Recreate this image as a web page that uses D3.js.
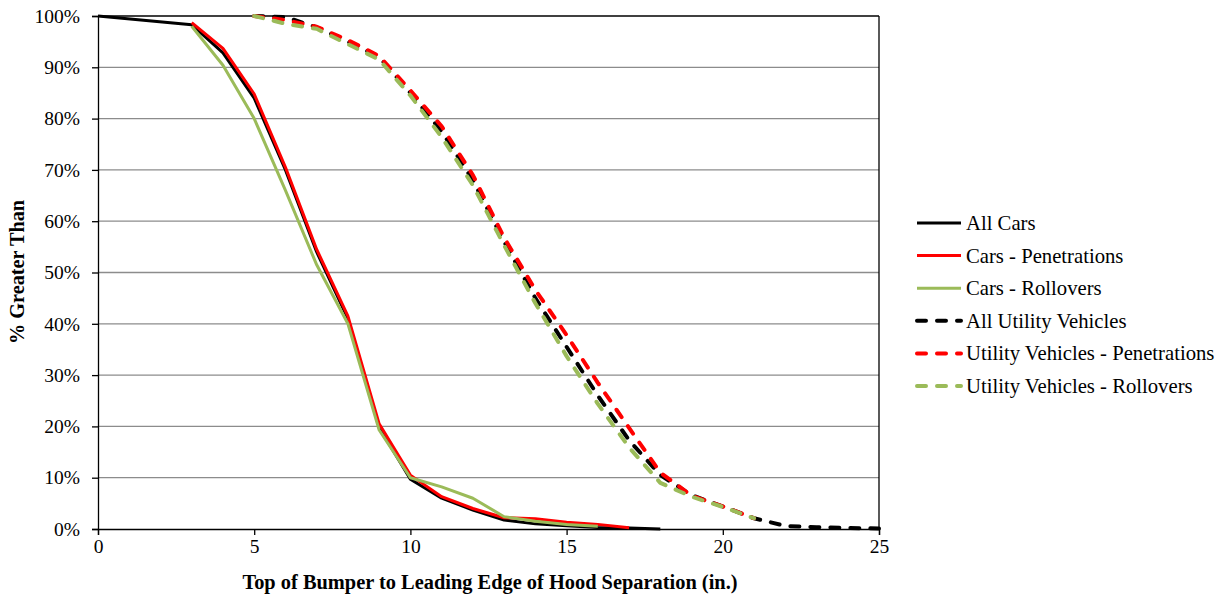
<!DOCTYPE html>
<html><head><meta charset="utf-8">
<script src="https://cdn.jsdelivr.net/npm/d3@7"></script>
<style>body{margin:0;background:#fff}</style>
</head><body><svg id="c" width="1224" height="596"></svg>
<script>
// Data
const carsAllX = [0,3,4,5,6,7,8,9,10,11,12,13,14,15,16,17,18];
const carsAllY = [100,98.3,92.8,84,70,54,41,19.8,9.7,6,3.7,1.75,1,0.65,0.3,0.2,0];
const carsPenX = [3,4,5,6,7,8,9,10,11,12,13,14,15,16,17];
const carsPenY = [98.7,93.7,84.8,70.5,54.5,41.5,20.5,10.5,6.3,4,2.2,2,1.3,0.9,0.25];
const carsRollX = [3,4,5,6,7,8,9,10,11,12,13,14,15,16];
const carsRollY = [98,90.4,80,66,51.5,40,19.3,10,8.2,6,2.4,1.5,0.9,0.55];
const uvAllX = [5,6,7,8,9,10,11,12,13,14,15,16,17,18,19,20,21,22,23,24,25];
const uvAllY = [100,99.8,97.8,95,92,85,77.5,68,56,45,35.5,26,17.3,10.5,6.6,4.4,2.1,0.6,0.35,0.2,0.1];
const uvPenX = [5,6,7,8,9,10,11,12,13,14,15,16,17,18,19,20,21];
const uvPenY = [100,99.2,97.9,95.3,92.2,85.5,78.5,69,56.8,46.6,37.8,28.5,19.7,11,6.5,4.4,2.1];
const uvRollX = [5,6,7,8,9,10,11,12,13,14,15,16,17,18,19,20,21];
const uvRollY = [100,98.5,97.5,94.5,91.5,84.5,76.4,67,55.3,44,33.7,24.4,15.9,9,6.3,4.3,2.1];
const seriesNames = ["All Cars","Cars - Penetrations","Cars - Rollovers","All Utility Vehicles","Utility Vehicles - Penetrations","Utility Vehicles - Rollovers"];
const xTicks = [0,5,10,15,20,25];
const yTicks = [0,10,20,30,40,50,60,70,80,90,100];

const series = [
  {name:seriesNames[0], xs:carsAllX, ys:carsAllY, color:"#000000", dash:false},
  {name:seriesNames[1], xs:carsPenX, ys:carsPenY, color:"#ff0000", dash:false},
  {name:seriesNames[2], xs:carsRollX, ys:carsRollY, color:"#9bbb59", dash:false},
  {name:seriesNames[3], xs:uvAllX, ys:uvAllY, color:"#000000", dash:true},
  {name:seriesNames[4], xs:uvPenX, ys:uvPenY, color:"#ff0000", dash:true},
  {name:seriesNames[5], xs:uvRollX, ys:uvRollY, color:"#9bbb59", dash:true}
];

const svg = d3.select("#c");
const L=98, R=879, T=16, B=529;
const x = d3.scaleLinear().domain([0,25]).range([L,R]);
const y = d3.scaleLinear().domain([0,100]).range([B,T]);
const font = "'Liberation Serif','Times New Roman',serif";

// gridlines
svg.append("g").selectAll("line").data(yTicks.filter(d=>d>0)).join("line")
  .attr("x1",L).attr("x2",R).attr("y1",d=>y(d)).attr("y2",d=>y(d))
  .attr("stroke",d=>d===100?"#000":"#8c8c8c").attr("stroke-width",1.3);
// right border
svg.append("line").attr("x1",R).attr("x2",R).attr("y1",T).attr("y2",B).attr("stroke","#000").attr("stroke-width",1.3);

// axes
const yAxis = d3.axisLeft(y).tickValues(yTicks).tickFormat(d=>d+"%").tickSize(6).tickPadding(12);
const gy = svg.append("g").attr("transform",`translate(${L},0)`).call(yAxis);
const xAxis = d3.axisBottom(x).tickValues(xTicks).tickSize(6).tickPadding(4);
const gx = svg.append("g").attr("transform",`translate(0,${B})`).call(xAxis);
[gx,gy].forEach(g=>{
  g.select(".domain").attr("stroke","#000").attr("stroke-width",1.3);
  g.selectAll(".tick line").attr("stroke","#000").attr("stroke-width",1.3);
  g.selectAll(".tick text").attr("font-family",font).attr("font-size",19.5).attr("fill","#000");
});

// lines
const line = d3.line().x(d=>x(d[0])).y(d=>y(d[1]));
series.forEach(s=>{
  const pts = s.xs.map((v,i)=>[v,s.ys[i]]);
  const p = svg.append("path").datum(pts).attr("d",line).attr("fill","none")
    .attr("stroke",s.color).attr("stroke-linejoin","round");
  if(s.dash){ p.attr("stroke-width",4).attr("stroke-dasharray","9,11").attr("stroke-linecap","round"); }
  else { p.attr("stroke-width",3); }
});

// axis titles
svg.append("text").attr("x",490).attr("y",589).attr("text-anchor","middle")
  .attr("font-family",font).attr("font-weight","bold").attr("font-size",20.4).text("Top of Bumper to Leading Edge of Hood Separation (in.)");
svg.append("text").attr("transform",`translate(24,272) rotate(-90)`).attr("text-anchor","middle")
  .attr("font-family",font).attr("font-weight","bold").attr("font-size",20.3).text("% Greater Than");

// legend
const lg = svg.append("g");
series.forEach((s,i)=>{
  const yy = 223 + i*32.6;
  const l = lg.append("line").attr("x1",917).attr("x2",961).attr("y1",yy).attr("y2",yy).attr("stroke",s.color);
  if(s.dash) l.attr("stroke-width",4).attr("stroke-dasharray","9,11").attr("stroke-linecap","round");
  else l.attr("stroke-width",3);
  lg.append("text").attr("x",966).attr("y",yy+7).attr("font-family",font).attr("font-size",20.7).text(s.name);
});
</script></body></html>
